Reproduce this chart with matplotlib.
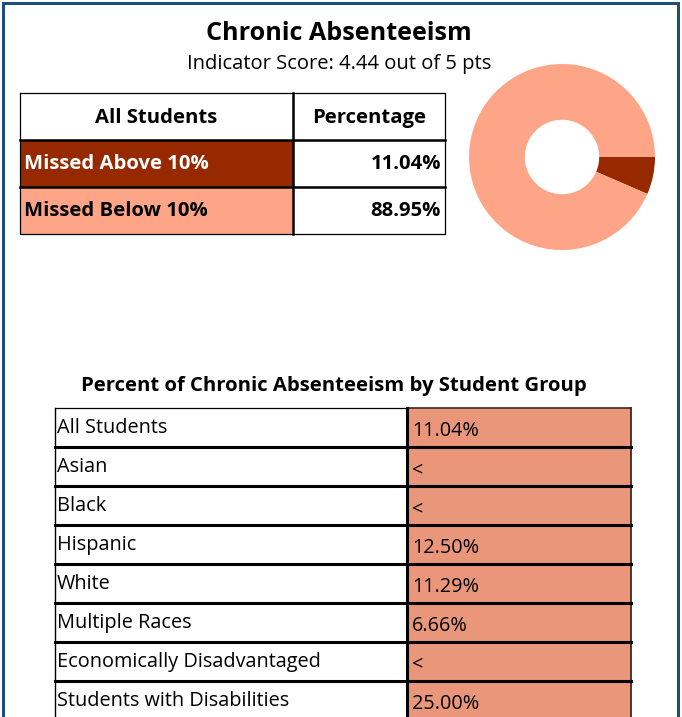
import matplotlib
matplotlib.use("Agg")
import matplotlib.pyplot as plt
from matplotlib.patches import Rectangle

# ---------------- data ----------------
title = "Chronic Absenteeism"
subtitle = "Indicator Score: 4.44 out of 5 pts"
summary_header = ["All Students", "Percentage"]
summary_labels = ["Missed Above 10%", "Missed Below 10%"]
summary_values = ["11.04%", "88.95%"]
pie_values = [6.5, 93.5]          # slice shares as drawn in the donut
group_title = "Percent of Chronic Absenteeism by Student Group"
groups = ["All Students", "Asian", "Black", "Hispanic", "White",
          "Multiple Races", "Economically Disadvantaged", "Students with Disabilities"]
group_values = ["11.04%", "<", "<", "12.50%", "11.29%", "6.66%", "<", "25.00%"]

# ---------------- style ----------------
DARK = "#962900"
LIGHT = "#FFA587"
SALMON = "#E9967A"
BLUE = "#1F4E79"
FONT = "Open Sans"
plt.rcParams["font.family"] = [FONT, "DejaVu Sans"]
BOLD_FS = 14.6
REG_FS = 14.3
DY = 2.5  # vertical text nudge

W, H = 682, 717
fig = plt.figure(figsize=(W / 100, H / 100), dpi=100)
ax = fig.add_axes([0, 0, 1, 1])
ax.set_xlim(0, W)
ax.set_ylim(H, 0)
ax.axis("off")

# card border (left, top, right)
ax.plot([3, 3, 678, 678], [H + 5, 3, 3, H + 5], color=BLUE, lw=2.2, solid_joinstyle="miter")

# titles
ax.text(339, 31 + DY, title, ha="center", va="center", fontsize=18.1, fontweight="bold", color="black")
ax.text(339, 61 + DY, subtitle, ha="center", va="center", fontsize=14.5, color="black")

# ---------------- summary table ----------------
tx0, tx1, tx2 = 19.5, 293.3, 445
ty = [92.5, 140, 186.7, 233.5]
row_fill = [DARK, LIGHT]
row_txt = ["white", "black"]
# header
ax.add_patch(Rectangle((tx0, ty[0]), tx2 - tx0, ty[1] - ty[0], facecolor="white", edgecolor="none"))
ax.text((tx0 + tx1) / 2, (ty[0] + ty[1]) / 2 - 1 + DY, summary_header[0], ha="center", va="center",
        fontsize=BOLD_FS, fontweight="bold")
ax.text((tx1 + tx2) / 2, (ty[0] + ty[1]) / 2 - 1 + DY, summary_header[1], ha="center", va="center",
        fontsize=BOLD_FS, fontweight="bold")
for i, (lab, val) in enumerate(zip(summary_labels, summary_values)):
    y0, y1 = ty[i + 1], ty[i + 2]
    ax.add_patch(Rectangle((tx0, y0), tx1 - tx0, y1 - y0, facecolor=row_fill[i], edgecolor="none"))
    ax.text(tx0 + 5, (y0 + y1) / 2 - 1.5 + DY, lab, ha="left", va="center", fontsize=BOLD_FS,
            fontweight="bold", color=row_txt[i])
    ax.text(tx2 - 4, (y0 + y1) / 2 - 1.5 + DY, val, ha="right", va="center", fontsize=BOLD_FS,
            fontweight="bold", color="black")
# grid lines
ax.plot([tx0, tx2, tx2, tx0, tx0], [ty[0], ty[0], ty[-1], ty[-1], ty[0]], color="black", lw=0.9)
for y in ty[1:-1]:
    ax.plot([tx0, tx2], [y, y], color="black", lw=1.8)
ax.plot([tx1, tx1], [ty[0], ty[-1]], color="black", lw=1.8)

# ---------------- donut ----------------
cx, cy, r = 562, 157, 93
pax = fig.add_axes([(cx - r) / W, 1 - (cy + r) / H, 2 * r / W, 2 * r / H])
pax.pie(pie_values, colors=[DARK, LIGHT], startangle=0, counterclock=False,
        radius=1, wedgeprops=dict(width=0.6, edgecolor="none"))
pax.set_xlim(-1, 1)
pax.set_ylim(-1, 1)
pax.set_aspect("equal")
pax.axis("off")

# ---------------- group table ----------------
ax.text(334, 384 + DY, group_title, ha="center", va="center", fontsize=BOLD_FS, fontweight="bold")
gx0, gx1, gx2 = 55, 407, 631
gy0, rh = 408.3, 38.9
n = len(groups)
for i, (g, v) in enumerate(zip(groups, group_values)):
    y0 = gy0 + i * rh
    ax.add_patch(Rectangle((gx0, y0), gx1 - gx0, rh, facecolor="white", edgecolor="none"))
    ax.add_patch(Rectangle((gx1, y0), gx2 - gx1, rh, facecolor=SALMON, edgecolor="none"))
    ax.text(gx0 + 2, y0 + rh / 2 - 2 + DY, g, ha="left", va="center", fontsize=REG_FS)
    ax.text(gx1 + 5, y0 + rh / 2 + 1 + DY, v, ha="left", va="center", fontsize=REG_FS)
ybot = gy0 + n * rh
ax.plot([gx0, gx1], [gy0, gy0], color="black", lw=0.9)
ax.plot([gx1, gx2], [gy0, gy0], color="#3a2a20", lw=1.2)
ax.plot([gx0, gx0], [gy0, ybot], color="black", lw=1.0)
ax.plot([gx2, gx2], [gy0, ybot], color="#3a2a20", lw=1.3)
for i in range(1, n + 1):
    y = gy0 + i * rh
    ax.plot([gx0, gx2], [y, y], color="black", lw=2.2)
ax.plot([gx1, gx1], [gy0, ybot], color="black", lw=2.2)

fig.savefig("out.png", dpi=100, facecolor="white")
